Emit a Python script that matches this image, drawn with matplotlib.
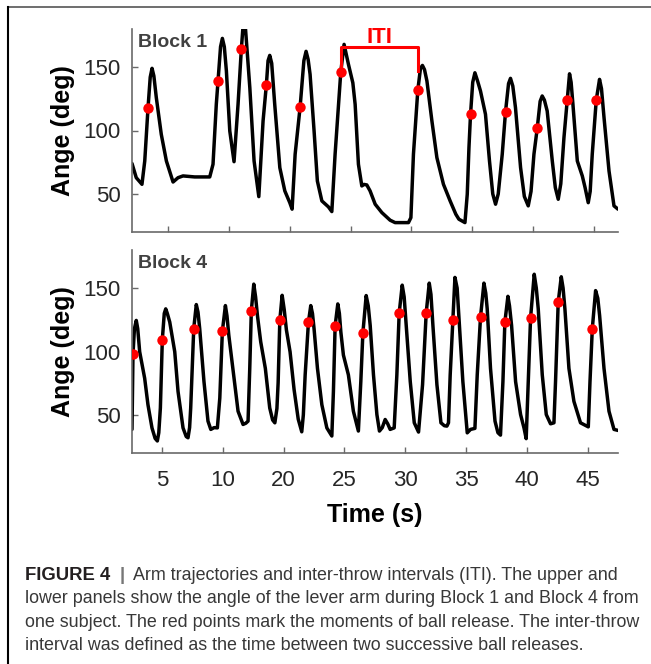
import matplotlib
matplotlib.use("Agg")
import matplotlib.pyplot as plt
from matplotlib.lines import Line2D

plt.rcParams['font.family'] = ['Liberation Sans', 'DejaVu Sans']

# Block 1 lever-arm trajectory (time s, angle deg)
t_block1 = [7.00, 7.35, 7.82, 8.05, 8.32, 8.50, 8.65, 8.80, 9.00, 9.41, 9.83, 10.38, 10.79, 11.20,
            12.16, 13.40, 13.67, 13.94, 14.08, 14.29, 14.44, 14.60, 14.77, 15.05, 15.40, 15.73,
            16.00, 16.14, 16.33, 16.70, 17.05, 17.44, 17.79, 18.06, 18.20, 18.34, 18.50, 18.75,
            19.17, 19.58, 19.99, 20.18, 20.43, 20.84, 21.15, 21.33, 21.50, 21.66, 21.99, 22.26,
            22.63, 23.17, 23.45, 23.72, 24.19, 24.46, 24.82, 25.18, 25.37, 25.64, 25.92, 26.10,
            26.33, 26.60, 27.02, 27.57, 28.25, 28.66, 29.76, 29.96, 30.17, 30.53, 30.75, 30.91,
            31.08, 31.28, 31.69, 32.10, 32.64, 33.19, 33.66, 33.91, 34.41, 34.60, 34.74, 34.87,
            35.05, 35.23, 35.45, 35.69, 36.10, 36.43, 36.70, 36.93, 37.15, 37.48, 37.75, 38.00,
            38.16, 38.35, 38.57, 38.99, 39.30, 39.62, 39.85, 40.09, 40.36, 40.60, 40.77, 40.95,
            41.18, 41.60, 41.85, 42.09, 42.30, 42.56, 42.83, 43.02, 43.15, 43.30, 43.66, 44.07,
            44.30, 44.56, 44.72, 44.89, 45.22, 45.49, 45.65, 45.86, 46.27, 46.68, 47.01]
a_block1 = [74.0, 62.8, 57.6, 76.0, 118.0, 142.0, 149.0, 143.0, 126.0, 97.0, 76.0, 59.4, 62.8, 64.2,
            63.4, 63.4, 73.4, 120.6, 139.0, 166.0, 172.6, 166.0, 147.0, 99.6, 75.4, 120.6,
            163.9, 182.0, 182.0, 133.7, 76.0, 47.9, 107.5, 135.8, 155.0, 159.2, 153.0, 120.6,
            70.7, 52.4, 43.1, 38.0, 81.3, 118.5, 155.0, 162.4, 156.0, 144.3, 99.6, 60.2,
            44.5, 39.8, 36.1, 81.3, 146.3, 167.9, 152.1, 137.6, 120.6, 73.4, 56.3, 57.5,
            57.1, 52.4, 41.9, 35.3, 29.3, 27.4, 27.4, 31.3, 81.3, 131.9, 149.0, 151.3,
            148.0, 139.0, 107.5, 78.6, 57.6, 44.5, 34.0, 30.1, 27.4, 49.8, 86.5, 112.8,
            138.0, 145.5, 139.0, 131.1, 112.8, 76.0, 50.0, 41.9, 50.0, 81.3, 114.8, 137.0,
            141.1, 135.0, 118.0, 70.7, 48.0, 40.6, 52.0, 81.3, 101.7, 123.0, 127.2, 124.0,
            115.4, 76.0, 55.0, 45.8, 58.0, 94.3, 124.0, 144.7, 138.0, 120.6, 76.0, 64.2,
            55.0, 43.1, 52.0, 81.3, 124.0, 140.3, 133.0, 110.1, 68.1, 40.6, 38.0]

# Block 1 ball releases
release_t1 = [8.32, 14.08, 16.00, 18.06, 20.84, 24.19, 30.53, 34.87, 37.75, 40.36, 42.83, 45.22]
release_a1 = [118.0, 139.0, 163.9, 135.8, 118.5, 146.3, 131.9, 112.8, 114.8, 101.7, 124.0, 124.0]

# Block 4 lever-arm trajectory
t_block4 = [7.55, 7.63, 7.75, 7.90, 8.02, 8.18, 8.59, 8.86, 9.19, 9.45, 9.63, 9.75, 9.88, 10.04,
            10.20, 10.32, 10.45, 10.65, 11.06, 11.33, 11.74, 12.00, 12.15, 12.28, 12.37, 12.62,
            12.83, 12.97, 13.11, 13.46, 13.79, 14.02, 14.30, 14.56, 14.76, 14.97, 15.22, 15.35,
            15.50, 15.93, 16.26, 16.67, 16.90, 17.08, 17.22, 17.35, 17.55, 17.70, 17.85, 18.12,
            18.50, 18.86, 19.10, 19.28, 19.45, 19.55, 19.69, 19.88, 20.05, 20.23, 20.53, 20.86,
            21.20, 21.49, 21.62, 21.77, 22.04, 22.23, 22.37, 22.50, 22.78, 23.14, 23.55, 23.96,
            24.09, 24.23, 24.45, 24.58, 24.70, 24.91, 25.32, 25.73, 26.14, 26.34, 26.51, 26.78,
            26.95, 27.11, 27.38, 27.66, 27.87, 28.10, 28.34, 28.55, 28.75, 29.08, 29.30, 29.49,
            29.74, 29.90, 30.07, 30.40, 30.73, 31.08, 31.41, 31.71, 31.96, 32.10, 32.26, 32.59,
            32.92, 33.20, 33.41, 33.54, 33.68, 33.90, 34.07, 34.25, 34.44, 34.72, 35.08, 35.35,
            35.71, 35.90, 36.17, 36.45, 36.60, 36.72, 36.99, 37.36, 37.60, 37.81, 38.01, 38.17,
            38.42, 38.55, 38.72, 39.05, 39.46, 39.74, 39.92, 40.09, 40.28, 40.58, 40.75, 40.91,
            41.24, 41.57, 41.92, 42.20, 42.33, 42.55, 42.80, 42.95, 43.10, 43.43, 43.84, 44.38,
            45.02, 45.16, 45.35, 45.62, 45.80, 45.95, 46.31, 46.72, 47.13, 47.46]
a_block4 = [38.6, 97.7, 118.0, 124.5, 118.0, 99.8, 78.9, 58.1, 39.8, 31.5, 29.5, 36.0, 55.5, 109.4,
            130.0, 133.6, 130.0, 123.2, 99.8, 68.5, 39.8, 33.0, 32.0, 40.0, 55.5, 118.0,
            137.0, 131.0, 118.0, 76.3, 45.1, 38.6, 40.0, 39.8, 63.3, 115.9, 136.2, 128.0,
            112.8, 78.9, 52.9, 42.5, 43.5, 45.1, 86.7, 132.3, 153.1, 143.0, 128.4, 107.6,
            86.7, 55.5, 46.0, 43.8, 55.0, 75.3, 124.8, 144.3, 133.0, 117.0, 99.8, 70.0,
            46.7, 36.7, 50.0, 81.6, 123.2, 136.2, 130.0, 118.0, 86.7, 58.1, 39.8, 33.4,
            68.5, 120.1, 137.5, 130.0, 115.4, 97.2, 81.6, 52.9, 37.3, 76.3, 114.6, 144.1,
            136.0, 120.6, 81.6, 50.3, 37.3, 40.0, 46.4, 43.0, 38.6, 39.8, 81.6, 130.2,
            152.3, 143.0, 120.6, 76.3, 43.8, 36.5, 73.8, 130.5, 153.9, 145.0, 120.6, 73.8,
            43.8, 41.5, 41.2, 43.8, 81.6, 125.0, 158.4, 150.0, 120.6, 76.3, 35.9, 38.6,
            39.4, 81.6, 127.1, 153.9, 146.0, 133.6, 86.7, 45.1, 36.0, 34.1, 76.3, 123.2,
            143.5, 136.0, 120.6, 76.3, 50.3, 39.8, 31.3, 76.3, 126.3, 160.9, 150.0, 133.6,
            81.6, 50.3, 43.0, 43.8, 76.3, 138.8, 158.9, 150.0, 133.6, 86.7, 60.7, 43.8,
            40.6, 76.3, 118.0, 148.0, 142.0, 128.4, 86.7, 52.9, 38.6, 37.8]

# Block 4 ball releases
release_t4 = [7.63, 10.04, 12.62, 14.97, 17.35, 19.69, 22.04, 24.23, 26.51, 29.49, 31.71, 33.90,
              36.17, 38.17, 40.28, 42.55, 45.35]
release_a4 = [97.7, 109.4, 118.0, 115.9, 132.3, 124.8, 123.2, 120.1, 114.6, 130.2, 130.5, 125.0,
              127.1, 123.2, 126.3, 138.8, 118.0]

x_ticks = [10, 15, 20, 25, 30, 35, 40, 45]
x_tick_labels = ["5", "10", "20", "25", "30", "35", "40", "45"]
y_ticks = [50, 100, 150]

caption_first = "Arm trajectories and inter-throw intervals (ITI). The upper and"
caption_lines = [
    "lower panels show the angle of the lever arm during Block 1 and Block 4 from",
    "one subject. The red points mark the moments of ball release. The inter-throw",
    "interval was defined as the time between two successive ball releases.",
]

W, H = 651, 664
fig = plt.figure(figsize=(W / 100, H / 100), dpi=100)
ax1 = fig.add_axes([132 / W, 1 - 232 / H, 486 / W, 203 / H])
ax2 = fig.add_axes([132 / W, 1 - 453 / H, 486 / W, 203 / H])

axis_gray = '#6a6a6a'
panels = [
    (ax1, t_block1, a_block1, release_t1, release_a1, (7.0, 47.01), "Block 1"),
    (ax2, t_block4, a_block4, release_t4, release_a4, (7.55, 47.46), "Block 4"),
]
for ax, t, a, rt, ra, xl, name in panels:
    ax.plot(t, a, color='black', lw=2.5, solid_joinstyle='round', solid_capstyle='round')
    ax.plot(rt, ra, 'o', color='#ff0000', ms=7.5, mec='none', zorder=3)
    ax.set_xlim(*xl)
    ax.set_ylim(20, 180)
    ax.set_xticks(x_ticks)
    ax.set_yticks(y_ticks)
    for side in ['top', 'right']:
        ax.spines[side].set_visible(False)
    for side in ['left', 'bottom']:
        ax.spines[side].set_color(axis_gray)
        ax.spines[side].set_linewidth(1.2)
    ax.tick_params(direction='in', length=4, width=1.0, color=axis_gray,
                   labelsize=16, labelcolor='#262626', pad=8)
    ax.set_ylabel("Ange (deg)", fontsize=18, fontweight='bold', labelpad=6)
    ax.text(0.012, 0.935, name, transform=ax.transAxes, fontsize=14, fontweight='bold',
            color='#404040', va='center', ha='left')

ax1.set_xticklabels([])
ax2.set_xticklabels(x_tick_labels)
ax2.tick_params(axis='x', pad=12)
ax2.set_xlabel("Time (s)", fontsize=18, fontweight='bold', labelpad=9)

# ITI bracket between two successive releases in block 1
i0, i1 = 5, 6
ax1.plot([release_t1[i0], release_t1[i0], release_t1[i1], release_t1[i1]],
         [release_a1[i0], 166, 166, 147], color='#ff0000', lw=2.2, clip_on=False, zorder=2)
ax1.text((release_t1[i0] + release_t1[i1]) / 2, 169, "ITI", color='#ff0000', fontsize=16,
         fontweight='bold', ha='center', va='baseline')

# frame around the figure panel
fig.add_artist(Line2D([8 / W, 1], [1 - 7 / H] * 2, color='#555555', lw=1.2))
fig.add_artist(Line2D([8 / W] * 2, [1 - 7 / H, 0], color='black', lw=1.5))

# caption
cap_color = '#383838'
cap_size = 12.9
baselines = [580, 603.3, 626.6, 649.6]
fig.text(25 / W, 1 - baselines[0] / H, "FIGURE 4", fontsize=13.3, fontweight='bold',
         color='#231f20', va='baseline')
fig.text(122 / W, 1 - baselines[0] / H, "|", fontsize=13.3, fontweight='bold', color='#777777',
         va='baseline', ha='center')
fig.text(133 / W, 1 - baselines[0] / H, caption_first, fontsize=cap_size, color=cap_color,
         va='baseline')
for k, line in enumerate(caption_lines):
    fig.text(25 / W, 1 - baselines[k + 1] / H, line, fontsize=cap_size, color=cap_color,
             va='baseline')

fig.savefig("out.png", dpi=100)
